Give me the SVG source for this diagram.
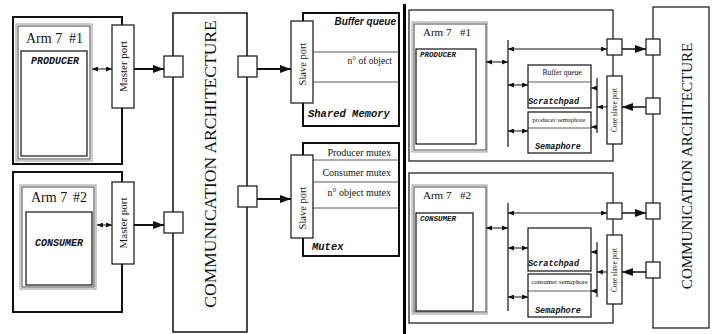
<svg xmlns="http://www.w3.org/2000/svg" width="716" height="334" viewBox="0 0 716 334">
<style>
.bx{fill:#fff;stroke:#111;stroke-width:1.2}
.in{fill:#fff;stroke:#444;stroke-width:1}
.thk{fill:#fff;stroke:#111;stroke-width:2}
.gr{fill:none;stroke:#999;stroke-width:1}
.ln{fill:none;stroke:#333;stroke-width:0.8}
.ser{font-family:"Liberation Serif","Times New Roman",serif;fill:#111}
.mono{font-family:"Liberation Mono","Courier New",monospace;font-weight:bold;font-style:italic;fill:#111}
.sans{font-family:"Liberation Sans",Arial,sans-serif;font-weight:bold;font-style:italic;fill:#111}
.a2{stroke:#111;stroke-width:2;fill:none;marker-end:url(#big)}
.a1{stroke:#111;stroke-width:1;fill:none;marker-end:url(#sm)}
.d1{stroke:#111;stroke-width:1;fill:none;marker-start:url(#sm);marker-end:url(#sm)}
</style>
<defs>
<marker id="big" markerUnits="userSpaceOnUse" markerWidth="12" markerHeight="8" refX="11" refY="4" orient="auto"><path d="M0,0 L11,4 L0,8 z" fill="#111"/></marker>
<marker id="sm" markerUnits="userSpaceOnUse" markerWidth="7" markerHeight="5" refX="6" refY="2.5" orient="auto-start-reverse"><path d="M0,0 L6,2.5 L0,5 z" fill="#111"/></marker>
</defs>

<!-- separator -->
<line x1="404.5" y1="4" x2="404.5" y2="334" stroke="#000" stroke-width="3"/>

<!-- LEFT HALF -->
<g id="arm1">
<rect class="thk" x="13" y="17" width="109" height="147"/>
<rect class="gr" x="16" y="24" width="76" height="137"/>
<rect class="in" x="18" y="26" width="72" height="133"/>
<rect class="bx" x="21" y="51" width="66" height="105"/>
<text class="ser" x="26" y="43" font-size="14">Arm 7</text>
<text class="ser" x="69" y="43" font-size="14">#1</text>
<text class="mono" x="31" y="64" font-size="10">PRODUCER</text>
</g>
<g id="master1">
<rect class="bx" x="112" y="25" width="22" height="83"/>
<text class="ser" font-size="11" text-anchor="middle" transform="translate(127,66.5) rotate(-90)">Master port</text>
</g>

<g id="arm2">
<rect class="thk" x="13" y="172" width="109" height="140"/>
<rect class="gr" x="20" y="185" width="76" height="104"/>
<rect class="in" x="22" y="187" width="72" height="100"/>
<rect class="bx" x="26" y="212" width="66" height="73"/>
<text class="ser" x="31" y="202" font-size="14">Arm 7</text>
<text class="ser" x="73" y="202" font-size="14">#2</text>
<text class="mono" x="35" y="246" font-size="10">CONSUMER</text>
</g>
<g id="master2">
<rect class="bx" x="112" y="182" width="22" height="82"/>
<text class="ser" font-size="11" text-anchor="middle" transform="translate(127,223) rotate(-90)">Master port</text>
</g>

<g id="comm1">
<rect class="bx" x="173" y="13" width="74" height="319" style="stroke-width:1.5"/>
<text class="ser" font-size="17.5" text-anchor="middle" transform="translate(216,164) rotate(-90)">COMMUNICATION ARCHITECTURE</text>
<rect class="bx" x="164" y="56" width="19" height="21"/>
<rect class="bx" x="164" y="212" width="19" height="21"/>
<rect class="bx" x="238" y="56" width="19" height="21"/>
<rect class="bx" x="238" y="186" width="19" height="21"/>
</g>

<g id="sharedmem">
<rect class="thk" x="303" y="13" width="96" height="113"/>
<line class="ln" x1="313" y1="52" x2="399" y2="52"/>
<line class="ln" x1="313" y1="82" x2="399" y2="82"/>
<text class="sans" x="396" y="25" font-size="10" text-anchor="end">Buffer queue</text>
<text class="ser" x="392" y="64" font-size="9.5" text-anchor="end">n° of object</text>
<text class="mono" x="308" y="117" font-size="10.5">Shared Memory</text>
<rect class="bx" x="291" y="21" width="22" height="82"/>
<text class="ser" font-size="10.5" text-anchor="middle" transform="translate(305.5,64) rotate(-90)">Slave port</text>
</g>

<g id="mutex">
<rect class="thk" x="303" y="143" width="96" height="113"/>
<line class="ln" x1="313" y1="160" x2="399" y2="160"/>
<line class="ln" x1="313" y1="182" x2="399" y2="182"/>
<line class="ln" x1="313" y1="208" x2="399" y2="208"/>
<text class="ser" x="391" y="156" font-size="10" text-anchor="end">Producer mutex</text>
<text class="ser" x="391" y="176" font-size="10" text-anchor="end">Consumer mutex</text>
<text class="ser" x="391" y="196" font-size="10" text-anchor="end">n° object mutex</text>
<text class="mono" x="312" y="250" font-size="10.5">Mutex</text>
<rect class="bx" x="291" y="155" width="22" height="83"/>
<text class="ser" font-size="10.5" text-anchor="middle" transform="translate(305.5,208) rotate(-90)">Slave port</text>
</g>

<!-- RIGHT HALF -->
<g id="cpu1">
<rect class="bx" x="409" y="10" width="204" height="151"/>
<rect class="gr" x="412" y="22" width="75" height="130"/>
<rect class="in" x="414" y="24" width="72" height="126"/>
<rect class="bx" x="416" y="49" width="60" height="95"/>
<text class="ser" x="423" y="36" font-size="11">Arm 7</text>
<text class="ser" x="460" y="36" font-size="11">#1</text>
<text class="mono" x="420" y="57" font-size="7.5">PRODUCER</text>
</g>
<g id="scratch1">
<rect class="bx" x="528" y="65" width="63" height="43"/>
<line class="ln" x1="528" y1="82" x2="591" y2="82"/>
<text class="ser" x="562" y="75" font-size="7.5" text-anchor="middle">Buffer queue</text>
<text class="mono" x="528" y="104" font-size="8.5">Scratchpad</text>
</g>
<g id="sem1">
<rect class="bx" x="528" y="112" width="63" height="41"/>
<line class="ln" x1="528" y1="128" x2="591" y2="128"/>
<text class="ser" x="559" y="122" font-size="6.5" text-anchor="middle">producer semaphore</text>
<text class="mono" x="535" y="149" font-size="8.5">Semaphore</text>
</g>
<g id="core1">
<rect class="bx" x="607" y="76" width="15" height="68"/>
<text class="ser" font-size="7.2" text-anchor="middle" transform="translate(617,110) rotate(-90)">Core slave port</text>
<rect class="bx" x="607" y="39" width="15" height="16"/>
</g>

<g id="cpu2">
<rect class="bx" x="409" y="173" width="204" height="150"/>
<rect class="gr" x="412" y="185" width="75" height="129"/>
<rect class="in" x="414" y="187" width="72" height="125"/>
<rect class="bx" x="416" y="213" width="57" height="98"/>
<text class="ser" x="423" y="199" font-size="11">Arm 7</text>
<text class="ser" x="460" y="199" font-size="11">#2</text>
<text class="mono" x="420" y="221" font-size="7.5">CONSUMER</text>
</g>
<g id="scratch2">
<rect class="bx" x="528" y="228" width="63" height="43"/>
<text class="mono" x="528" y="266" font-size="8.5">Scratchpad</text>
</g>
<g id="sem2">
<rect class="bx" x="528" y="274" width="63" height="43"/>
<line class="ln" x1="528" y1="291" x2="591" y2="291"/>
<text class="ser" x="559.5" y="284" font-size="6.7" text-anchor="middle">consumer semaphore</text>
<text class="mono" x="535" y="313" font-size="8.5">Semaphore</text>
</g>
<g id="core2">
<rect class="bx" x="607" y="235" width="15" height="69"/>
<text class="ser" font-size="7.2" text-anchor="middle" transform="translate(617,270) rotate(-90)">Core slave port</text>
<rect class="bx" x="607" y="203" width="15" height="16"/>
</g>

<g id="comm2">
<rect class="bx" x="653" y="7" width="56" height="321"/>
<text class="ser" font-size="15" text-anchor="middle" transform="translate(692,166) rotate(-90)">COMMUNICATION ARCHITECTURE</text>
<rect class="bx" x="646" y="39" width="14" height="16"/>
<rect class="bx" x="646" y="98" width="14" height="16"/>
<rect class="bx" x="646" y="203" width="14" height="16"/>
<rect class="bx" x="646" y="262" width="14" height="16"/>
</g>

<g id="connectors">
<!-- left -->
<line class="d1" x1="92" y1="69" x2="112" y2="69"/>
<line class="d1" x1="97" y1="225" x2="112" y2="225"/>
<line class="a2" x1="134" y1="69" x2="164" y2="69"/>
<line class="a2" x1="134" y1="225" x2="164" y2="225"/>
<line class="a2" x1="257" y1="69" x2="291" y2="69"/>
<line class="a2" x1="257" y1="199" x2="291" y2="199"/>
<!-- right top -->
<line class="d1" x1="486" y1="62" x2="508" y2="62"/>
<line x1="508" y1="40" x2="508" y2="147" stroke="#111" stroke-width="1.2"/>
<line class="d1" x1="508" y1="49" x2="607" y2="49"/>
<line class="d1" x1="508" y1="85" x2="528" y2="85"/>
<line class="d1" x1="508" y1="131" x2="528" y2="131"/>
<line x1="597" y1="78" x2="597" y2="133" stroke="#111" stroke-width="1.2"/>
<line class="a1" x1="597" y1="88" x2="591" y2="88"/>
<line class="a1" x1="597" y1="127" x2="591" y2="127"/>
<line class="a1" x1="607" y1="107" x2="597" y2="107"/>
<line class="a2" x1="622" y1="49" x2="646" y2="49" style="stroke-width:1.5"/>
<line class="a2" x1="646" y1="107" x2="622" y2="107" style="stroke-width:1.5"/>
<!-- right bottom -->
<line class="d1" x1="486" y1="228" x2="508" y2="228"/>
<line x1="508" y1="203" x2="508" y2="311" stroke="#111" stroke-width="1.2"/>
<line class="d1" x1="508" y1="213" x2="607" y2="213"/>
<line class="d1" x1="508" y1="248" x2="528" y2="248"/>
<line class="d1" x1="508" y1="297" x2="528" y2="297"/>
<line x1="597" y1="242" x2="597" y2="297" stroke="#111" stroke-width="1.2"/>
<line class="a1" x1="597" y1="252" x2="591" y2="252"/>
<line class="a1" x1="597" y1="291" x2="591" y2="291"/>
<line class="a1" x1="607" y1="272" x2="597" y2="272"/>
<line class="a2" x1="622" y1="213" x2="646" y2="213" style="stroke-width:1.5"/>
<line class="a2" x1="646" y1="272" x2="622" y2="272" style="stroke-width:1.5"/>
</g>
</svg>
